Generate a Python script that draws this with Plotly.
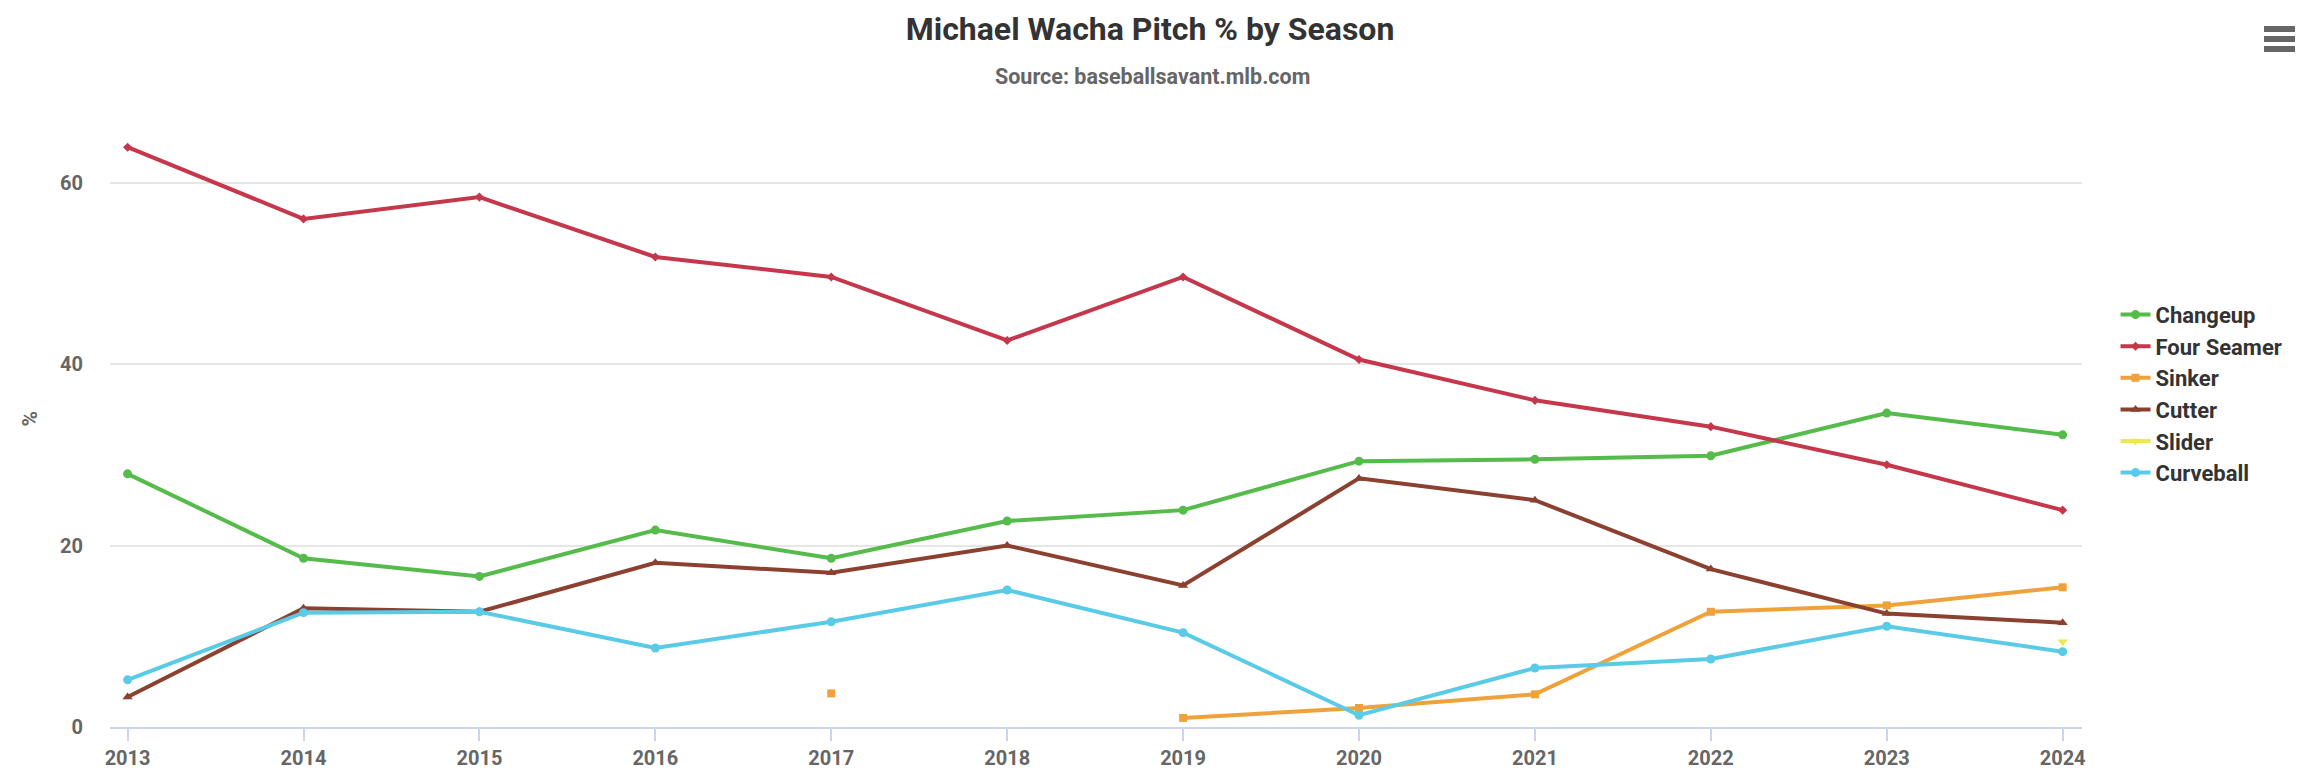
import plotly.graph_objects as go

# Pitch usage by season (percent)
seasons = [2013, 2014, 2015, 2016, 2017, 2018, 2019, 2020, 2021, 2022, 2023, 2024]

changeup = [27.9, 18.6, 16.6, 21.7, 18.6, 22.7, 23.9, 29.3, 29.5, 29.9, 34.6, 32.2]
four_seamer = [63.9, 56.0, 58.4, 51.8, 49.6, 42.6, 49.6, 40.5, 36.0, 33.1, 28.9, 23.9]
sinker = [None, None, None, None, 3.7, None, 1.0, 2.1, 3.6, 12.7, 13.4, 15.4]
cutter = [3.3, 13.1, 12.7, 18.1, 17.0, 20.0, 15.6, 27.4, 25.0, 17.4, 12.5, 11.5]
slider = [None, None, None, None, None, None, None, None, None, None, None, 9.4]
curveball = [5.2, 12.6, 12.7, 8.7, 11.6, 15.1, 10.4, 1.3, 6.5, 7.5, 11.1, 8.3]

y_ticks = [0, 20, 40, 60]

FONT = "Roboto, Liberation Sans Narrow, DejaVu Sans Condensed, sans-serif"

# plot area in pixels (the reference is 2300 x 772)
L, R, T, B = 110, 2082, 110, 727
PW, PH = R - L, B - T

series = [
    ("Changeup", changeup, "#55BB4A", "circle", 9),
    ("Four Seamer", four_seamer, "#C5374B", "diamond", 7),
    ("Sinker", sinker, "#F0A23A", "square", 8),
    ("Cutter", cutter, "#8B4030", "triangle-up", 9),
    ("Slider", slider, "#EDE84E", "triangle-down", 9),
    ("Curveball", curveball, "#5ACBE6", "circle", 9),
]

fig = go.Figure()
for name, vals, color, symbol, msize in series:
    fig.add_trace(go.Scatter(
        x=seasons, y=vals, name=name, mode="lines+markers",
        line=dict(color=color, width=4),
        marker=dict(symbol=symbol, size=msize, color=color),
        connectgaps=False,
    ))

fig.update_layout(
    width=2300, height=772,
    margin=dict(l=L, r=2300 - R, t=T, b=772 - B, autoexpand=False),
    paper_bgcolor="white", plot_bgcolor="white",
    font=dict(family=FONT, color="#666666"),
    title=dict(
        text="Michael Wacha Pitch % by Season",
        x=0.5, xanchor="center", xref="container",
        y=1 - 29 / 772, yanchor="middle", yref="container",
        font=dict(family=FONT, size=32, color="#333333", weight="bold"),
    ),
    annotations=[
        dict(
            text="Source: baseballsavant.mlb.com",
            xref="paper", yref="paper", x=(1152 - L) / PW, y=(B - 76) / PH,
            xanchor="center", yanchor="middle", showarrow=False,
            font=dict(family=FONT, size=21.5, color="#666666", weight="bold"),
        ),
        dict(
            text="%", textangle=-90,
            xref="paper", yref="paper", x=(29 - L) / PW, y=0.5,
            xanchor="center", yanchor="middle", showarrow=False,
            font=dict(family=FONT, size=21, color="#666666", weight="bold"),
        ),
    ],
    legend=dict(
        x=1.017, xanchor="left", y=0.54, yanchor="middle",
        font=dict(family=FONT, size=22, color="#333333", weight="bold"),
        itemwidth=30, tracegroupgap=0, bgcolor="rgba(0,0,0,0)",
    ),
    showlegend=True,
    shapes=[
        dict(type="line", xref="paper", yref="paper",
             x0=(2264 - L) / PW, x1=(2295 - L) / PW,
             y0=(B - yy) / PH, y1=(B - yy) / PH,
             line=dict(color="#666666", width=6))
        for yy in (29, 39, 49)
    ],
)

fig.update_xaxes(
    range=[2012.9, 2024.11], automargin=False,
    tickvals=seasons,
    tickfont=dict(family=FONT, size=20, color="#666666", weight="bold"),
    showgrid=False, zeroline=False,
    showline=True, linecolor="#CCD6EB", linewidth=1.5,
    ticks="outside", tickcolor="#CCD6EB", ticklen=12, tickwidth=1.5,
)

fig.update_yaxes(
    range=[0, 68], automargin=False,
    tickvals=y_ticks,
    tickfont=dict(family=FONT, size=20, color="#666666", weight="bold"),
    showgrid=True, gridcolor="#E6E6E6", gridwidth=1.5,
    zeroline=False, showline=False, ticks="",
    ticklabelstandoff=26,
)

# drop the default 8px body margin so the chart sits at the page corner
fig.write_html(
    "out.html",
    config={"displayModeBar": False},
    post_script="document.body.style.margin='0';document.body.style.overflow='hidden';",
)
